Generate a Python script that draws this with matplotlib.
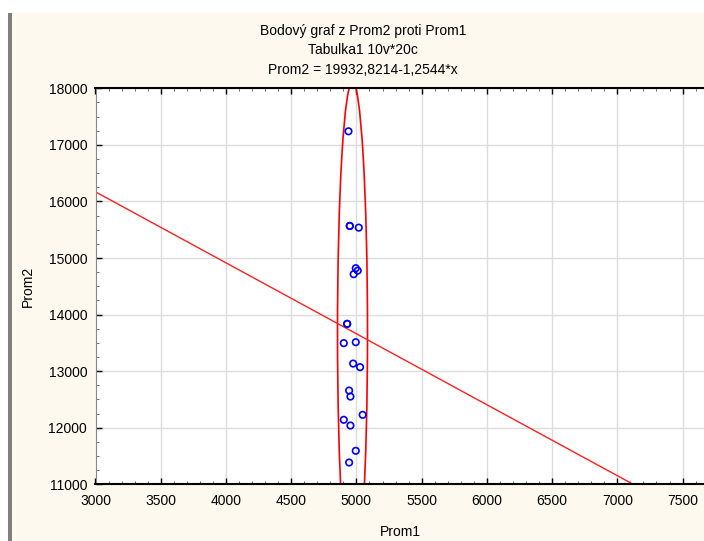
import numpy as np
import matplotlib.pyplot as plt
from matplotlib.patches import Rectangle, Ellipse

plt.rcParams['font.family'] = ['Liberation Sans', 'DejaVu Sans']

# --- data ---
prom1 = [4939, 4949, 4949, 5018, 4995, 5010, 4979, 4929, 4929, 4903,
         4995, 4975, 5028, 4944, 4954, 5048, 4903, 4954, 4995, 4944]
prom2 = [17240, 15567, 15567, 15537, 14820, 14777, 14714, 13836, 13836, 13495,
         13512, 13134, 13071, 12657, 12551, 12228, 12140, 12039, 11592, 11385]

intercept = 19932.8214
slope = -1.2544

# confidence ellipse (center, full width/height) as seen in the chart
ell_center = (4970, 13685)
ell_width = 230
ell_height = 8860

title_lines = ["Bodový graf z Prom2 proti Prom1",
               "Tabulka1 10v*20c",
               "Prom2 = 19932,8214-1,2544*x"]

W, H = 704, 541
fig = plt.figure(figsize=(W / 100, H / 100), dpi=100)
fig.patch.set_facecolor("white")

# cream panel + grey left bar
fig.patches.append(Rectangle((12 / W, 0), 1, 1 - 13 / H, transform=fig.transFigure,
                             facecolor="#fef9ee", edgecolor="none", zorder=-10))
fig.patches.append(Rectangle((8 / W, 0), 4 / W, 1 - 13 / H, transform=fig.transFigure,
                             facecolor="#808080", edgecolor="none", zorder=-9))

ax = fig.add_axes([95.5 / W, (H - 484.3) / H, (W - 95.5) / W + 0.002, (484.3 - 88.3) / H])
ax.set_facecolor("white")

ax.set_xlim(3000, 7675)
ax.set_ylim(11000, 18000)
ax.set_xticks(np.arange(3000, 7501, 500))
ax.set_yticks(np.arange(11000, 18001, 1000))
ax.set_xticks(np.arange(3000, 7700, 100), minor=True)
ax.set_yticks(np.arange(11000, 18001, 250), minor=True)
ax.grid(True, which="major", color="#dcdcdc", lw=1)
ax.set_axisbelow(True)

ax.tick_params(which="both", direction="in", top=True, right=False, labelsize=10)
ax.tick_params(which="major", length=4, width=1)
ax.tick_params(which="minor", length=2.5, width=0.6, colors="#555555")
ax.tick_params(axis="x", pad=7)
ax.tick_params(axis="y", pad=6)

ax.spines["right"].set_visible(False)
ax.spines["left"].set_color("#888888")
ax.spines["top"].set_linewidth(1.5)
ax.spines["bottom"].set_linewidth(1.5)

# regression line
xl = np.array([3000, 7675])
ax.plot(xl, intercept + slope * xl, color="#ff2020", lw=1)

# ellipse
ax.add_patch(Ellipse(ell_center, ell_width, ell_height, fill=False,
                     edgecolor="#ff0000", lw=1.2, clip_on=True))

# points
ax.scatter(prom1, prom2, s=22, facecolors="none", edgecolors="#0000ff", lw=1.2, zorder=3)

ax.set_xlabel("Prom1", fontsize=10, labelpad=12)
ax.set_ylabel("Prom2", fontsize=10, labelpad=10)

for i, t in enumerate(title_lines):
    fig.text(363 / W, 1 - (31 + 19.5 * i) / H, t, ha="center", va="center", fontsize=10)

fig.savefig("out.png", dpi=100)
